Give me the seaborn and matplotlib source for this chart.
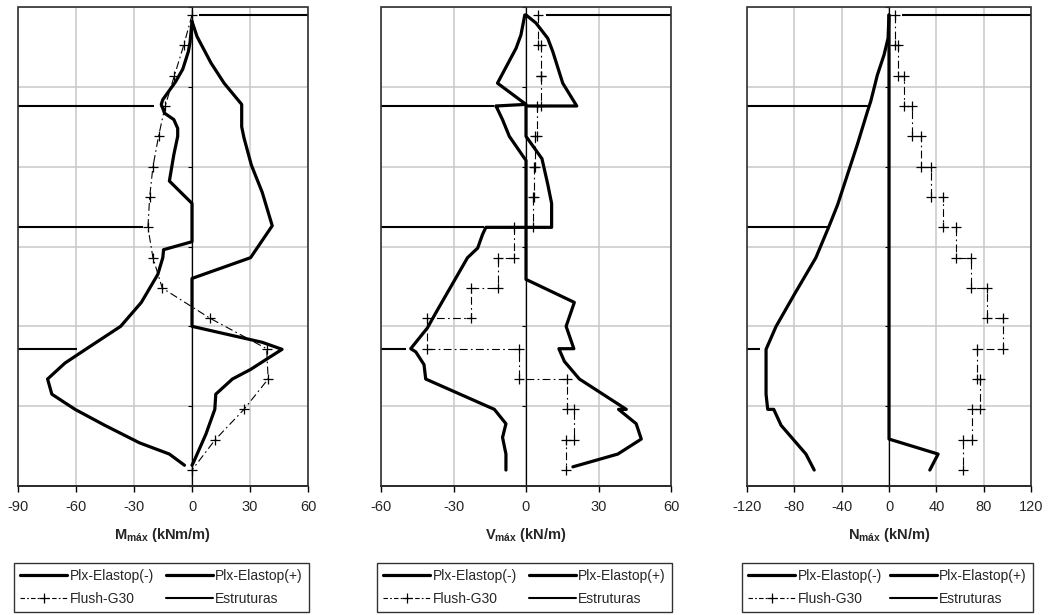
import matplotlib
matplotlib.use("Agg")
import matplotlib.pyplot as plt
from matplotlib.lines import Line2D
from matplotlib.patches import Rectangle
import seaborn as sns

# ---------------- data ----------------
# depth of the calculation nodes (top of wall = 0)
depth_nodes = [0.5, 2.4, 4.3, 6.2, 8.1, 10.0, 11.9, 13.8, 15.7, 17.6,
               19.5, 21.4, 23.3, 25.2, 27.1, 29.0]
strut_depth = [0.5, 6.2, 13.8, 21.4]

# Bending moment (kNm/m)
flush_m = [0, -4.3, -9.1, -13.9, -17.3, -20.2, -21.9, -22.8, -20.2, -15.4,
           9.4, 38.6, 39.4, 26.9, 12.0, 0]
plx_m_neg_d = [0.9, 2.2, 2.8, 3.9, 4.7, 5.8, 6.1, 6.65, 7.05, 7.6, 8.1, 9.25,
               10.9, 12.3, 14.7, 15.2, 15.7, 16.75, 18.5, 20.0, 21.4, 22.3,
               23.3, 24.25, 25.2, 26.2, 27.3, 28.0, 28.7]
plx_m_neg = [0, -1.0, -1.9, -4.8, -8.6, -15.1, -15.9, -14.2, -9.4, -7.4, -7.4,
             -9.4, -11.7, 0, 0, -14.7, -15.1, -17.7, -26.2, -36.9, -54.5, -65.7,
             -74.7, -72.5, -60.5, -45.1, -27.1, -11.7, -3.9]
plx_m_pos_d = [0.9, 1.85, 3.5, 4.77, 6.1, 7.5, 8.2, 9.9, 11.6, 13.7, 15.7,
               17.0, 20.0, 21.0, 21.44, 21.9, 22.7, 23.3, 24.25, 25.2, 26.75,
               28.4, 28.7]
plx_m_pos = [0, 2.6, 9.8, 16.6, 25.7, 25.7, 26.9, 30.7, 36.3, 41.5, 30.3,
             0, 0, 36.3, 46.6, 40.6, 30.3, 20.9, 12.3, 11.8, 7.2, 1.2, 0]
strut_m = [3.4, -19.4, -25.4, -59.7]

# Shear force (kN/m) - Flush values are constant per element
flush_v = [4.8, 6.0, 6.2, 4.4, 3.8, 3.3, 3.0, -4.8, -11.5, -22.8, -40.8,
           -2.8, 17.0, 19.8, 16.6]
plx_v_neg_d = [0.5, 1.75, 2.58, 4.77, 6.1, 6.2, 6.33, 7.06, 8.1, 9.46, 9.6,
               13.8, 13.8, 14.25, 15.1, 15.7, 19.15, 20.1, 21.4, 21.6, 22.4,
               23.3, 25.2, 26.1, 26.96, 28.0, 29.0]
plx_v_neg = [-0.5, -2.1, -4.1, -11.8, 0, -12.5, -12.0, -9.7, -6.9, -0.7, 0,
             0, -16.6, -18.0, -20.0, -24.2, -37.3, -40.8, -47.7, -45.6, -42.2,
             -41.5, -13.1, -8.3, -9.7, -8.3, -8.3]
plx_v_pos_d = [0.5, 1.0, 1.96, 2.8, 4.77, 6.2, 6.2, 8.1, 9.5, 11.1, 12.3,
               13.8, 13.8, 17.06, 18.5, 20.0, 21.4, 21.4, 22.2, 23.3, 25.2,
               25.2, 26.1, 27.06, 28.0, 28.8]
plx_v_pos = [0, 4.1, 9.0, 11.1, 15.2, 21.0, 0, 0, 6.6, 9.0, 10.6, 10.6, 0, 0,
             20.0, 16.6, 19.8, 13.6, 15.9, 22.1, 41.5, 38.3, 45.6, 47.7, 38.0,
             19.4]
strut_v = [8.3, -13.1, -17.5, -49.8]

# Axial force (kN/m) - Flush values are constant per element
flush_n = [4.8, 7.5, 12.6, 19.6, 26.7, 35.6, 45.5, 56.7, 69.6, 82.8, 96.0,
           74.5, 76.5, 70.2, 62.3]
plx_n_neg_d = [0.5, 1.96, 3.0, 4.25, 5.9, 6.54, 8.6, 10.5, 12.4, 13.7, 15.7,
               18.0, 20.0, 21.44, 24.25, 25.2, 25.2, 26.2, 28.0, 29.0]
plx_n_neg = [0, -0.8, -4.2, -9.8, -15.4, -18.2, -26.7, -35.1, -43.5, -50.5,
             -61.8, -80.0, -95.4, -103.9, -103.9, -102.5, -97.4, -91.2, -70.2,
             -63.2]
plx_n_pos_d = [0.5, 27.06, 28.0, 29.0]
plx_n_pos = [0, 0, 41.5, 34.5]
strut_n = [11.2, -16.8, -50.5, -108.6]

labels = ["Plx-Elastop(-)", "Plx-Elastop(+)", "Flush-G30", "Estruturas"]
xlabels = [r"$\mathbf{M_{máx}}$ (kNm/m)", r"$\mathbf{V_{máx}}$ (kN/m)",
           r"$\mathbf{N_{máx}}$ (kN/m)"]
xticks = [[-90, -60, -30, 0, 30, 60], [-60, -30, 0, 30, 60],
          [-120, -80, -40, 0, 40, 80, 120]]

# ---------------- style ----------------
sns.set_style("white")
plt.rcParams["font.family"] = ["Liberation Sans", "DejaVu Sans"]
plt.rcParams["mathtext.fontset"] = "custom"
plt.rcParams["mathtext.rm"] = "Liberation Sans"
plt.rcParams["mathtext.bf"] = "Liberation Sans:bold"
plt.rcParams["mathtext.it"] = "Liberation Sans:italic"

W, H = 1048, 615
fig = plt.figure(figsize=(W / 100, H / 100), dpi=100)

# axes boxes in pixels: left, right
boxes = [(18, 308), (381, 671), (747, 1031)]
legend_boxes = [(14, 309), (377, 672), (742, 1033)]
top_px, bot_px = 7, 486

PLX_LW = 2.3
STRUT_LW = 1.5
FLUSH_DASH = (0, (7, 3, 1.5, 3))
FS = 10.5
LEG_FS = 10


def staircase(values, nodes):
    xs, ys = [], []
    for k, v in enumerate(values):
        xs += [v, v]
        ys += [nodes[k], nodes[k + 1]]
    return xs, ys


panels = [
    dict(flush=(flush_m, depth_nodes), neg=(plx_m_neg, plx_m_neg_d),
         pos=(plx_m_pos, plx_m_pos_d), strut=strut_m),
    dict(flush=staircase(flush_v, depth_nodes), neg=(plx_v_neg, plx_v_neg_d),
         pos=(plx_v_pos, plx_v_pos_d), strut=strut_v),
    dict(flush=staircase(flush_n, depth_nodes), neg=(plx_n_neg, plx_n_neg_d),
         pos=(plx_n_pos, plx_n_pos_d), strut=strut_n),
]

for i, p in enumerate(panels):
    l, r = boxes[i]
    ax = fig.add_axes([l / W, 1 - bot_px / H, (r - l) / W, (bot_px - top_px) / H])
    xmin, xmax = xticks[i][0], xticks[i][-1]
    ax.set_xlim(xmin, xmax)
    ax.set_ylim(30, 0)

    # grid
    ax.set_xticks(xticks[i])
    ax.set_yticks([0, 5, 10, 15, 20, 25, 30])
    ax.grid(True, color="#c8c8c8", lw=1.1)
    ax.set_axisbelow(True)

    # struts
    for d, v in zip(strut_depth, p["strut"]):
        end = xmax if v > 0 else xmin
        ax.hlines(d, v, end, color="black", lw=STRUT_LW, zorder=3)

    # Flush-G30
    fx, fy = p["flush"]
    sns.lineplot(x=fx, y=fy, sort=False, estimator=None, ax=ax, color="black",
                 lw=0.8, linestyle=FLUSH_DASH, marker="+", markersize=7,
                 markeredgewidth=0.9, markeredgecolor="black", zorder=4,
                 legend=False)

    # Plaxis envelopes
    for key in ("neg", "pos"):
        vx, vy = p[key]
        sns.lineplot(x=vx, y=vy, sort=False, estimator=None, ax=ax,
                     color="black", lw=PLX_LW, solid_joinstyle="round",
                     zorder=5, legend=False)

    # axes: vertical axis through zero, frame around the plot area
    for s in ("top", "right"):
        ax.spines[s].set_visible(False)
    ax.spines["left"].set_position(("data", 0))
    ax.spines["left"].set_color("black")
    ax.spines["left"].set_linewidth(0.9)
    ax.spines["left"].set_zorder(4.5)
    ax.spines["bottom"].set_color("black")
    ax.spines["bottom"].set_linewidth(1.2)
    ax.add_patch(Rectangle((0, 0), 1, 1, transform=ax.transAxes, fill=False,
                           ec="#303030", lw=1.2, clip_on=False, zorder=6))
    ax.tick_params(axis="y", which="both", direction="out", length=3,
                   width=0.8, color="black", labelleft=False, left=True)
    ax.tick_params(axis="x", direction="out", length=4, width=1.0,
                   color="black", labelsize=FS, pad=6, bottom=True)
    ax.set_xticklabels([str(t) for t in xticks[i]])
    ax.set_xlabel(xlabels[i], fontsize=FS, fontweight="bold", labelpad=9)
    ax.set_ylabel("")

    # legend
    handles = [
        Line2D([], [], color="black", lw=PLX_LW),
        Line2D([], [], color="black", lw=0.8, linestyle=(0, (4, 2, 1.5, 2)),
               marker="+", markersize=7, markeredgewidth=0.9),
        Line2D([], [], color="black", lw=PLX_LW),
        Line2D([], [], color="black", lw=STRUT_LW),
    ]
    order = [labels[0], labels[2], labels[1], labels[3]]
    lx0, lx1 = legend_boxes[i]
    leg = ax.legend(handles, order, ncol=2, loc="upper left",
                    bbox_to_anchor=(lx0 / W, 0.0, (lx1 - lx0) / W, 1 - 563 / H),
                    bbox_transform=fig.transFigure, mode="expand",
                    borderaxespad=0, frameon=True, fancybox=False,
                    edgecolor="black", handlelength=3.4, handletextpad=0.15,
                    columnspacing=0.5, fontsize=LEG_FS, labelspacing=0.6,
                    borderpad=0.45)
    leg.get_frame().set_linewidth(1.0)

fig.savefig("out.png", dpi=100)
